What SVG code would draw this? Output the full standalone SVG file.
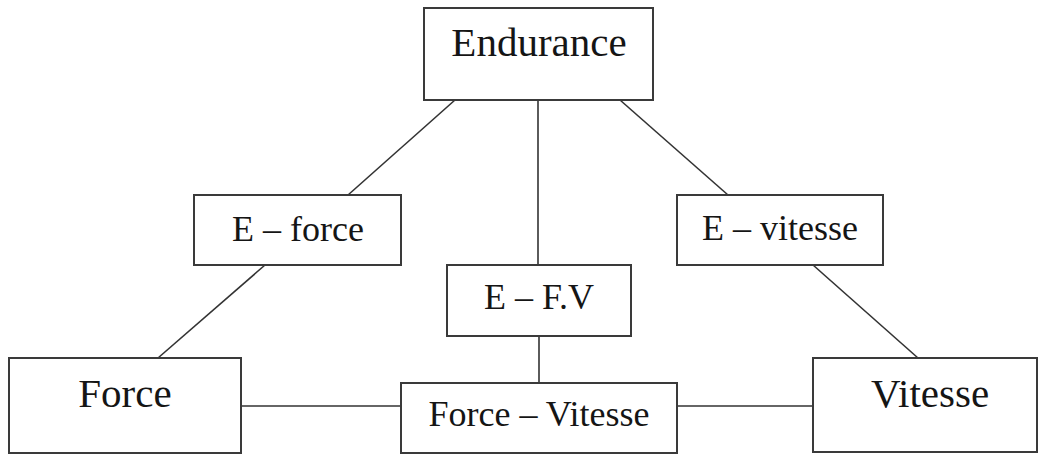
<svg xmlns="http://www.w3.org/2000/svg" width="1038" height="457" viewBox="0 0 1038 457">
<style>
.box{fill:#fff;stroke:#3a3a3a;stroke-width:2}
.lbl{font-family:"Liberation Serif","Times New Roman",serif;fill:#151515;text-anchor:middle}
.big{font-size:41px}
.sm{font-size:36px}
.con line{stroke:#333;stroke-width:1.6}
</style>
<rect width="1038" height="457" fill="#fff"/>
<g class="con" id="connectors">
<line x1="455" y1="100" x2="348" y2="195"/>
<line x1="538" y1="100" x2="538" y2="265"/>
<line x1="620" y1="100" x2="728" y2="195"/>
<line x1="265" y1="265" x2="158" y2="358"/>
<line x1="813" y1="265" x2="918" y2="358"/>
<line x1="539" y1="336" x2="539" y2="383"/>
<line x1="241" y1="406" x2="401" y2="406"/>
<line x1="677" y1="406" x2="813" y2="406"/>
</g>
<g id="endurance"><rect class="box" x="424" y="8" width="229" height="92"/><text class="lbl big" x="539" y="56">Endurance</text></g>
<g id="e-force"><rect class="box" x="194" y="195" width="207" height="70"/><text class="lbl sm" x="298" y="241">E – force</text></g>
<g id="e-vitesse"><rect class="box" x="677" y="195" width="206" height="70"/><text class="lbl sm" x="780" y="240">E – vitesse</text></g>
<g id="e-fv"><rect class="box" x="447" y="265" width="184" height="71"/><text class="lbl sm" x="539" y="309">E – F.V</text></g>
<g id="force"><rect class="box" x="9" y="358" width="232" height="95"/><text class="lbl big" x="125" y="407">Force</text></g>
<g id="force-vitesse"><rect class="box" x="401" y="383" width="276" height="70"/><text class="lbl sm" x="539" y="426">Force – Vitesse</text></g>
<g id="vitesse"><rect class="box" x="813" y="358" width="224" height="94"/><text class="lbl big" x="930" y="407">Vitesse</text></g>
</svg>
